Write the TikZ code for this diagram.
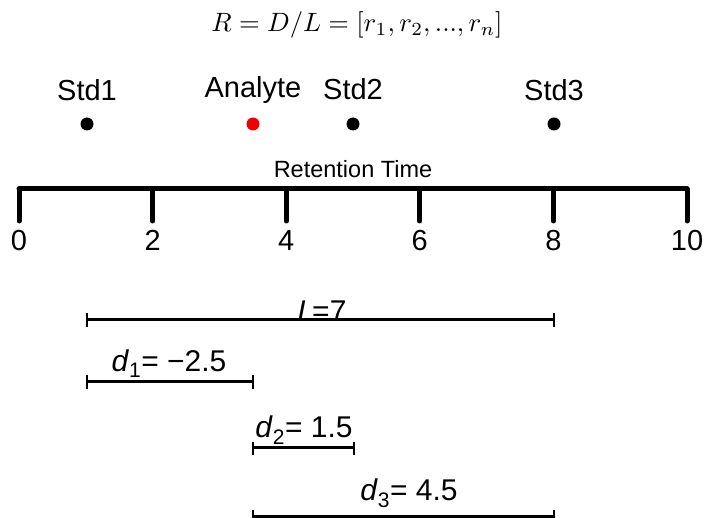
\documentclass[tikz,border=0pt]{standalone}
\usepackage{fontspec}
\setmainfont{Liberation Sans}
\begin{document}
\begin{tikzpicture}[x=1pt,y=-1pt,
  big/.style={font=\fontsize{29}{33}\selectfont, inner sep=0pt},
  lab/.style={font=\fontsize{30}{34}\selectfont, inner sep=0pt},
  mid/.style={font=\fontsize{23.5}{27}\selectfont, inner sep=0pt},
  axis/.style={line width=5pt, line cap=round},
  bar/.style={line width=3pt},
  endtick/.style={line width=2.5pt},
  dot/.style={circle, fill=black, minimum size=13pt, inner sep=0pt}]
\useasboundingbox (0,0) rectangle (705,518);
% equation
\node[scale=2.65, inner sep=0pt, anchor=base] (eq) at (357,32) {$R = D/L = [r_1, r_2, ..., r_n]$};
% axis
\coordinate (a0) at (19,189);
\coordinate (a10) at (687,189);
\draw[axis] (a0) -- (a10);
\foreach \v/\nm in {0/t0,2/t2,4/t4,6/t6,8/t8,10/t10} {
  \coordinate (\nm) at ({19+66.8*\v},189);
  \draw[axis] (\nm) -- ++(0,32) coordinate (\nm b);
  \node[big, anchor=base] (\nm l) at ({19+66.8*\v},251) {\v};
}
\node[mid, anchor=base] (rt) at (353,178) {Retention Time};
% points
\node[dot] (s1) at (87,124) {};
\node[dot, fill={rgb,255:red,240;green,0;blue,0}] (an) at (253,124) {};
\node[dot] (s2) at (353,124) {};
\node[dot] (s3) at (554,124) {};
\node[big, anchor=base] (s1l) at (87,101) {Std1};
\node[big, anchor=base] (anl) at (253,98) {Analyte};
\node[big, anchor=base] (s2l) at (353,100) {Std2};
\node[big, anchor=base] (s3l) at (554,101) {Std3};
% intervals
\coordinate (La) at (87,320); \coordinate (Lb) at (554,320);
\draw[bar] (La) -- (Lb);
\draw[endtick] (87,313) -- (87,327) (554,313) -- (554,327);
\node[lab, anchor=base] (Ll) at (322,322) {\textit{L}\kern-2pt=7};

\coordinate (d1a) at (87,382); \coordinate (d1b) at (253,382);
\draw[bar] (d1a) -- (d1b);
\draw[endtick] (87,375) -- (87,389) (253,375) -- (253,389);
\node[lab, anchor=base] (d1l) at (169,372) {\textit{d}\textsubscript{1}= −2.5};

\coordinate (d2a) at (253,448); \coordinate (d2b) at (354,448);
\draw[bar] (d2a) -- (d2b);
\draw[endtick] (253,442) -- (253,455) (354,442) -- (354,455);
\node[lab, anchor=base] (d2l) at (304,438) {\textit{d}\textsubscript{2}= 1.5};

\coordinate (d3a) at (253,517); \coordinate (d3b) at (554,517);
\draw[bar] (d3a) -- (d3b);
\draw[endtick] (253,510) -- (253,524) (554,510) -- (554,524);
\node[lab, anchor=base] (d3l) at (409,501) {\textit{d}\textsubscript{3}= 4.5};
\end{tikzpicture}
\end{document}
